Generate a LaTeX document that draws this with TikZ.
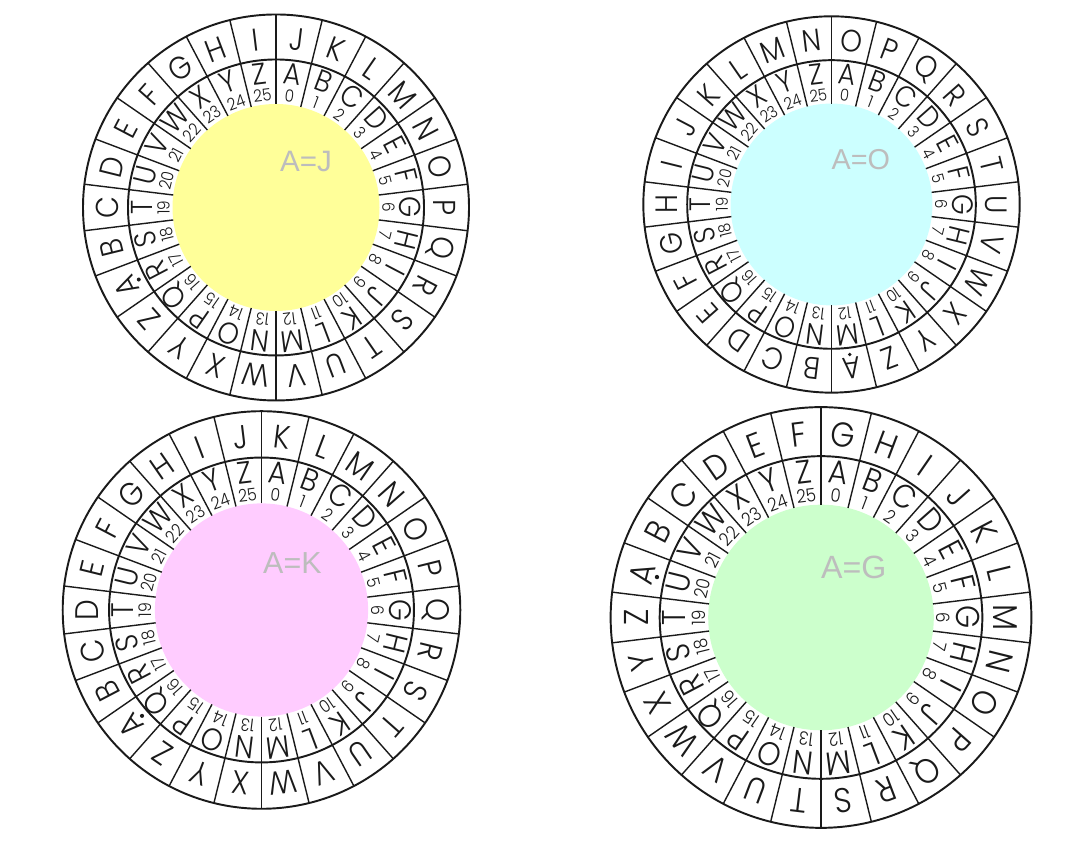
\documentclass[tikz,border=0pt]{standalone}
\usepackage{fontspec}
\usepackage{tikz}
\usetikzlibrary{calc}
\newfontfamily\keyfont{Liberation Sans}
\newfontfamily\wheelfont{Poppins Light}[FakeStretch=0.9]
\definecolor{Ink}{HTML}{1A1A1A}
\definecolor{KeyGray}{HTML}{BDBDBD}
\definecolor{DiscYellow}{HTML}{FFFF99}
\definecolor{DiscCyan}{HTML}{CCFFFF}
\definecolor{DiscPink}{HTML}{FFCCFF}
\definecolor{DiscGreen}{HTML}{CCFFCC}
\makeatletter
\newcommand{\wheelletter}[1]{\@Alph{#1}}
\makeatother
% #1 centre, #2 scale, #3 shift of the outer ring, #4 disc colour, #5 key text
\newcommand{\cipherwheel}[5]{%
\begin{scope}[shift={#1},scale=#2,transform shape]
\fill[#4] (0,0) circle (1.035);
\draw[ring] (0,0) circle (1.93);
\draw[ring] (0,0) circle (1.48);
\foreach \k in {0,...,25}
  \draw[spoke] (90-\k*360/26:1.035) -- (90-\k*360/26:1.93);
\foreach \k in {0,...,25}{
  \pgfmathsetmacro{\ang}{90-(\k+0.5)*360/26}
  \pgfmathtruncatemacro{\ilet}{\k+1}
  \pgfmathtruncatemacro{\olet}{mod(\k+#3,26)+1}
  \node[outerletter,rotate=\ang-90] at (\ang:1.69) {\wheelletter{\olet}};
  \node[innerletter,rotate=\ang-90] at (\ang:1.345) {\wheelletter{\ilet}};
  \node[innernum,rotate=\ang-90] at (\ang:1.125) {\k};
}
\pgfmathsetmacro{\dotang}{90-(mod(26-#3,26)+0.5)*360/26}
\fill[Ink] (\dotang:1.55) circle (0.02);
\node[keylabel] at (0.30,0.46) {#5};
\end{scope}}

\begin{document}
\begin{tikzpicture}[x=1cm,y=1cm,>=stealth,
  ring/.style={Ink,line width=0.55pt},
  spoke/.style={Ink,line width=0.4pt},
  outerletter/.style={inner sep=0pt,text=Ink,font=\wheelfont\fontsize{9}{9}\selectfont},
  innerletter/.style={inner sep=0pt,text=Ink,font=\wheelfont\fontsize{8.6}{8.6}\selectfont},
  innernum/.style={inner sep=0pt,text=Ink,font=\wheelfont\fontsize{4.8}{4.8}\selectfont},
  keylabel/.style={inner sep=0pt,text=KeyGray,font=\keyfont\fontsize{8.4}{8.4}\selectfont}]
\useasboundingbox (0,0) rectangle (10.74,8.64);
\cipherwheel{(2.76,6.565)}{1.0}{9}{DiscYellow}{A=J}
\cipherwheel{(8.315,6.595)}{0.975}{14}{DiscCyan}{A=O}
\cipherwheel{(2.615,2.54)}{1.03}{10}{DiscPink}{A=K}
\cipherwheel{(8.21,2.465)}{1.09}{6}{DiscGreen}{A=G}
\end{tikzpicture}
\end{document}
